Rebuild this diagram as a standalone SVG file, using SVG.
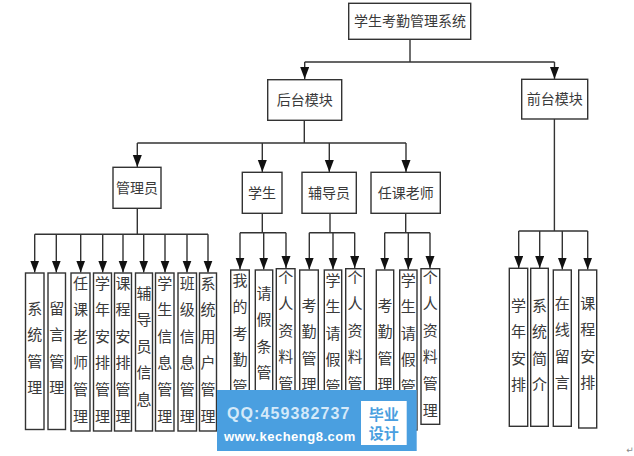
<svg xmlns="http://www.w3.org/2000/svg" width="634" height="456" viewBox="0 0 634 456">
<style>
text{font-family:"Noto Sans CJK SC","Liberation Sans",sans-serif}
.b{fill:#fff;stroke:#333;stroke-width:1.4}
.t{font-size:14px;fill:#3a3a3a;text-anchor:middle}
.v{font-size:15px;fill:#3a3a3a;writing-mode:vertical-rl;text-orientation:upright;letter-spacing:11.6px}
.c{fill:none;stroke:#333;stroke-width:1.4}
.a{marker-end:url(#arr)}
</style>
<defs><marker id="arr" markerUnits="userSpaceOnUse" markerWidth="13" markerHeight="10" refX="12" refY="4.5" orient="auto"><path d="M0 0L12 4.5L0 9Z" fill="#111"/></marker></defs>
<rect width="634" height="456" fill="#fff"/>
<g id="connectors">
<path class="c" d="M410 39V62M304.7 62H554.5"/>
<path class="c a" d="M304.7 62V79"/><path class="c a" d="M554.5 62V79"/>
<path class="c" d="M304.3 120V143M137.3 143H406"/>
<path class="c a" d="M137.3 143V167"/><path class="c a" d="M262.3 143V172"/><path class="c a" d="M329.3 143V172"/><path class="c a" d="M406 143V172"/>
<path class="c" d="M137.3 208V234.3M34.7 234.3H208"/>
<path class="c a" d="M34.7 234.3V272.5"/><path class="c a" d="M56.3 234.3V272.5"/><path class="c a" d="M80.7 234.3V272.5"/><path class="c a" d="M102.7 234.3V272.5"/><path class="c a" d="M123 234.3V272.5"/><path class="c a" d="M143.7 234.3V272.5"/><path class="c a" d="M165 234.3V272.5"/><path class="c a" d="M187 234.3V272.5"/><path class="c a" d="M208 234.3V272.5"/>
<path class="c" d="M262.3 213V232.7M240 232.7H286"/>
<path class="c a" d="M240 232.7V269.5"/><path class="c a" d="M263.7 232.7V269.5"/><path class="c a" d="M286 232.7V268"/>
<path class="c" d="M330 213V232.7M309.3 232.7H354.7"/>
<path class="c a" d="M309.3 232.7V269.5"/><path class="c a" d="M333 232.7V269.5"/><path class="c a" d="M354.7 232.7V268"/>
<path class="c" d="M405.7 213V232.7M384.7 232.7H430"/>
<path class="c a" d="M384.7 232.7V269.5"/><path class="c a" d="M408.3 232.7V269.5"/><path class="c a" d="M430 232.7V268"/>
<path class="c" d="M554.4 119V231M518.7 231H587.7"/>
<path class="c a" d="M518.7 231V268"/><path class="c a" d="M539.7 231V268"/><path class="c a" d="M562.3 231V269.5"/><path class="c a" d="M587.7 231V269.5"/>
</g>
<g id="root"><rect class="b" x="348.7" y="3.3" width="122" height="36"/><text class="t" x="410" y="26">学生考勤管理系统</text></g>
<g id="backend"><rect class="b" x="267.7" y="79.7" width="74" height="40.6"/><text class="t" x="304.7" y="105">后台模块</text></g>
<g id="frontend"><rect class="b" x="521.7" y="79.3" width="66" height="39.7"/><text class="t" x="554.7" y="104">前台模块</text></g>
<g id="admin"><rect class="b" x="113" y="167.3" width="48" height="41"/><text class="t" x="137" y="193">管理员</text></g>
<g id="student"><rect class="b" x="242.3" y="172.3" width="39.7" height="41"/><text class="t" x="262" y="198">学生</text></g>
<g id="assistant"><rect class="b" x="302" y="172.3" width="54.3" height="41"/><text class="t" x="329" y="198">辅导员</text></g>
<g id="teacher"><rect class="b" x="371" y="172.3" width="69.3" height="41"/><text class="t" x="405.7" y="198">任课老师</text></g>

<g id="a1"><rect class="b" x="25.5" y="273" width="18.5" height="156.5"/><text class="v" x="34.7" y="300.5">系统管理</text></g>
<g id="a2"><rect class="b" x="48" y="273" width="17.5" height="156.5"/><text class="v" x="56.7" y="300.5">留言管理</text></g>
<g id="a3"><rect class="b" x="71" y="273" width="19" height="158"/><text class="v" x="80.5" y="275.5">任课老师管理</text></g>
<g id="a4"><rect class="b" x="93.5" y="273" width="18" height="158"/><text class="v" x="102.5" y="275.5">学年安排管理</text></g>
<g id="a5"><rect class="b" x="114.5" y="273" width="17" height="158"/><text class="v" x="123" y="275.5">课程安排管理</text></g>
<g id="a6"><rect class="b" x="135.5" y="273" width="17" height="158"/><text class="v" x="144" y="285.5">辅导员信息</text></g>
<g id="a7"><rect class="b" x="155.5" y="273" width="18.5" height="158"/><text class="v" x="164.7" y="275.5">学生信息管理</text></g>
<g id="a8"><rect class="b" x="178" y="273" width="18.5" height="158"/><text class="v" x="187.2" y="275.5">班级信息管理</text></g>
<g id="a9"><rect class="b" x="199.5" y="273" width="17" height="158"/><text class="v" x="208" y="275.5">系统用户管理</text></g>

<g id="s1"><rect class="b" x="230.7" y="270" width="18.6" height="160"/><text class="v" x="240" y="272.5">我的考勤管</text></g>
<g id="s2"><rect class="b" x="255.3" y="270" width="17.4" height="160"/><text class="v" x="264" y="285.5">请假条管</text></g>
<g id="s3"><rect class="b" x="276.3" y="268.7" width="18.7" height="160"/><text class="v" x="285.7" y="269.5">个人资料管</text></g>
<g id="f1"><rect class="b" x="299.7" y="270" width="18.6" height="160"/><text class="v" x="309" y="297.5">考勤管理</text></g>
<g id="f2"><rect class="b" x="324.3" y="270" width="17.4" height="160"/><text class="v" x="333" y="272.5">学生请假管</text></g>
<g id="f3"><rect class="b" x="345.7" y="268.7" width="18.6" height="160"/><text class="v" x="355" y="269.5">个人资料管</text></g>
<g id="t1"><rect class="b" x="376.3" y="270" width="17.4" height="160"/><text class="v" x="385" y="297.5">考勤管理</text></g>
<g id="t2"><rect class="b" x="399.7" y="270" width="17.3" height="160"/><text class="v" x="408.3" y="272.5">学生请假管</text></g>
<g id="t3"><rect class="b" x="421" y="268.7" width="18.7" height="155.6"/><text class="v" x="430.3" y="269.5">个人资料管理</text></g>

<g id="p1"><rect class="b" x="509.3" y="268.3" width="18.4" height="158"/><text class="v" x="518.5" y="297.5">学年安排</text></g>
<g id="p2"><rect class="b" x="530.7" y="268.3" width="17.6" height="158"/><text class="v" x="539.5" y="297.5">系统简介</text></g>
<g id="p3"><rect class="b" x="553.3" y="270" width="18" height="156.3"/><text class="v" x="562.3" y="295.5">在线留言</text></g>
<g id="p4"><rect class="b" x="578.7" y="270" width="18" height="158"/><text class="v" x="587.7" y="295.5">课程安排</text></g>

<g id="banner">
<rect x="217" y="390" width="199.7" height="61" fill="#4a9fe0"/>
<rect x="361" y="401" width="45.7" height="44" fill="#fff"/>
<text x="227" y="419" font-size="16" font-weight="700" fill="#d4e9f9" style="font-family:'Liberation Sans',sans-serif;letter-spacing:1.1px">QQ:459382737</text>
<text x="224" y="441" font-size="13" font-weight="700" fill="#fff" style="font-family:'Liberation Sans',sans-serif;letter-spacing:.5px">www.kecheng8.com</text>
<text x="383.8" y="420" font-size="15" font-weight="700" fill="#4a9fe0" text-anchor="middle">毕业</text>
<text x="383.8" y="439" font-size="15" font-weight="700" fill="#4a9fe0" text-anchor="middle">设计</text>
</g>
<text x="630" y="453" font-size="9" fill="#888" text-anchor="middle" style="font-family:'DejaVu Sans',sans-serif">↵</text>
</svg>
